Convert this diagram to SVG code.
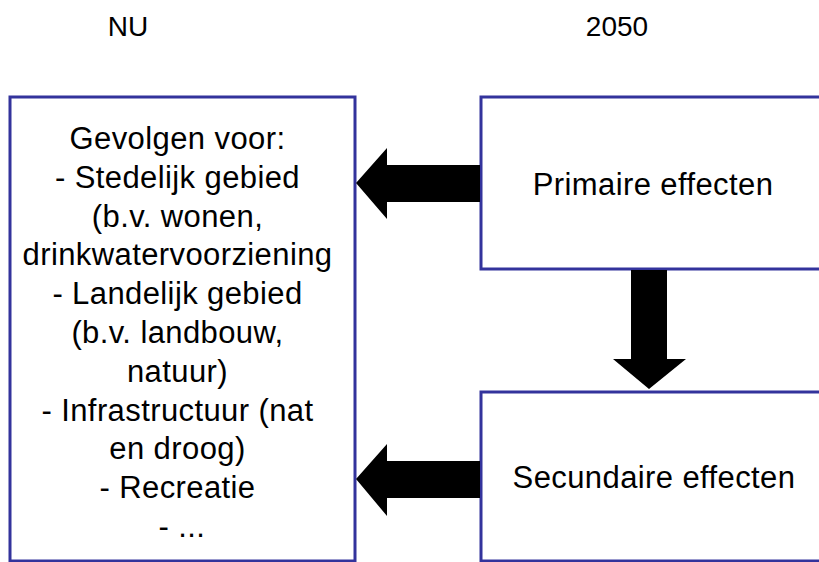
<svg xmlns="http://www.w3.org/2000/svg" width="819" height="562" viewBox="0 0 819 562">
<style>
.box{fill:#fff;stroke:#33339c;stroke-width:3}
.t{font-family:"Liberation Sans",Arial,sans-serif;fill:#000;text-anchor:middle}
.body{font-size:31px;letter-spacing:0.4px}
.head{font-size:28px}
.arr{fill:#000}
</style>
<rect width="819" height="562" fill="#fff"/>
<text class="t head" x="128" y="36">NU</text>
<text class="t head" x="617" y="36">2050</text>
<g id="gevolgen">
<rect class="box" x="10" y="97" width="345" height="464"/>
<text class="t body">
<tspan x="182" y="149">Gevolgen voor:</tspan>
<tspan x="182" y="188">- Stedelijk gebied</tspan>
<tspan x="182" y="226.6">(b.v. wonen,</tspan>
<tspan x="182" y="265.4">drinkwatervoorziening</tspan>
<tspan x="182" y="304.2">- Landelijk gebied</tspan>
<tspan x="182" y="343">(b.v. landbouw,</tspan>
<tspan x="182" y="381.8">natuur)</tspan>
<tspan x="182" y="420.6">- Infrastructuur (nat</tspan>
<tspan x="182" y="459.4">en droog)</tspan>
<tspan x="182" y="498.2">- Recreatie</tspan>
<tspan x="182" y="537">- ...</tspan>
</text>
</g>
<g id="primair">
<rect class="box" x="481" y="97" width="345" height="172"/>
<text class="t body" x="653" y="195">Primaire effecten</text>
</g>
<g id="secundair">
<rect class="box" x="481" y="392" width="345" height="169"/>
<text class="t body" x="654" y="488">Secundaire effecten</text>
</g>
<g id="connectors">
<polygon class="arr" points="356,183 387,148 387,165 480,165 480,202 387,202 387,219"/>
<polygon class="arr" points="631,270 667,270 667,359 686,359 649,389 613,359 631,359"/>
<polygon class="arr" points="356,479 387,444 387,461 480,461 480,498 387,498 387,516"/>
</g>
</svg>
